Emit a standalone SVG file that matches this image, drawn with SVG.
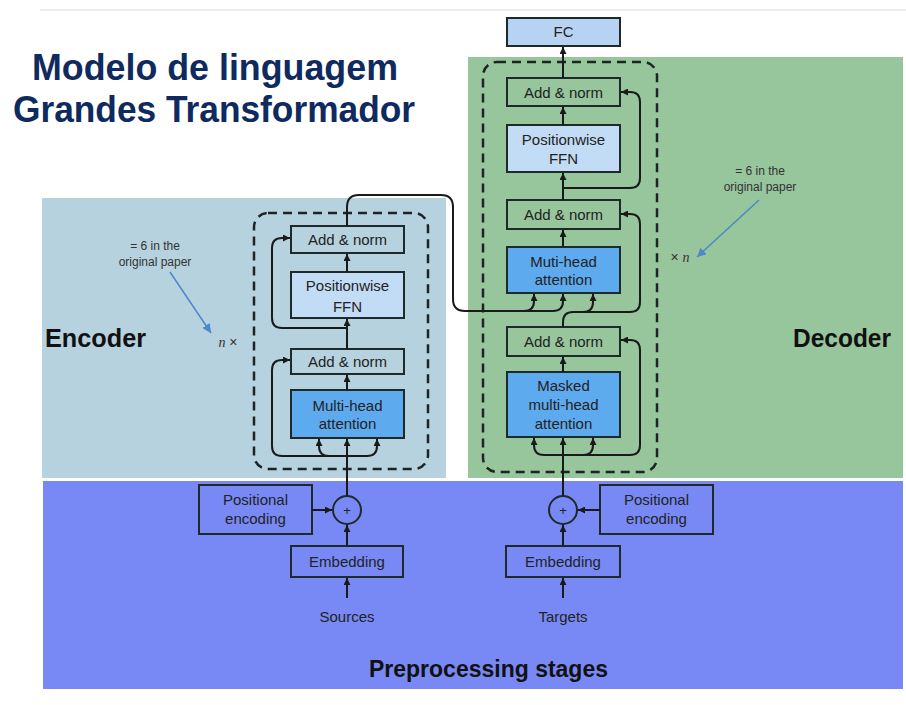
<svg xmlns="http://www.w3.org/2000/svg" width="906" height="705" viewBox="0 0 906 705">
<defs>
<marker id="ah" viewBox="0 0 10 10" refX="10" refY="5" markerWidth="7" markerHeight="7" markerUnits="userSpaceOnUse" orient="auto">
<path d="M0,0 L10,5 L0,10 Z" fill="#1a1a1a"/>
</marker>
<marker id="ahb" viewBox="0 0 10 10" refX="10" refY="5" markerWidth="9" markerHeight="9" markerUnits="userSpaceOnUse" orient="auto">
<path d="M0,0 L10,5 L0,10 Z" fill="#4d88c9"/>
</marker>
<style>
.box{fill:none;stroke:#1e2a2a;stroke-width:2}
.ffn{fill:#c2dcf6;stroke:#1e2a2a;stroke-width:2}
.mha{fill:#5eaaee;stroke:#1e2a2a;stroke-width:2}
.fc{fill:#b7d3f3;stroke:#1e2a2a;stroke-width:2}
.dash{fill:none;stroke:#1e2424;stroke-width:2.5;stroke-dasharray:9 6}
.lbl{font-family:"Liberation Sans",Arial,sans-serif;font-size:15px;fill:#222;text-anchor:middle}
.plus{font-family:"Liberation Sans",Arial,sans-serif;font-size:13px;fill:#222;text-anchor:middle}
.con path,.con line{fill:none;stroke:#1a1a1a;stroke-width:2;marker-end:url(#ah)}
.ann{font-family:"Liberation Sans",Arial,sans-serif;font-size:12px;fill:#333;text-anchor:middle}
.nx{font-family:"Liberation Sans",Arial,sans-serif;font-size:14px;fill:#333;text-anchor:middle}
.big{font-family:"Liberation Sans",Arial,sans-serif;font-weight:bold;font-size:26px;fill:#111}
.title{font-family:"Liberation Sans",Arial,sans-serif;font-weight:bold;font-size:37px;fill:#0e2a5e}
</style>
</defs>
<rect width="906" height="705" fill="#fff"/>
<line x1="40" y1="10" x2="906" y2="10" stroke="#e6e6e6" stroke-width="1.5"/>
<g id="regions">
<rect x="42" y="198" width="404" height="280" fill="#b6d2de"/>
<rect x="468" y="57" width="435" height="421" fill="#97c59c"/>
<rect x="43" y="481" width="860" height="208" fill="#7889f5"/>
</g>
<g id="title">
<text class="title" x="32" y="80" textLength="366" lengthAdjust="spacingAndGlyphs">Modelo de linguagem</text>
<text class="title" x="13" y="122" textLength="402" lengthAdjust="spacingAndGlyphs">Grandes Transformador</text>
</g>
<g id="labels">
<text class="big" x="45" y="347" textLength="101" lengthAdjust="spacingAndGlyphs">Encoder</text>
<text class="big" x="793" y="347" textLength="98" lengthAdjust="spacingAndGlyphs">Decoder</text>
<text class="big" x="369" y="677" style="font-size:23px" textLength="239" lengthAdjust="spacingAndGlyphs">Preprocessing stages</text>
</g>
<g id="enc-block">
<rect class="dash" x="254" y="213" width="174" height="256" rx="14"/>
</g>
<g id="dec-block">
<rect class="dash" x="483" y="62" width="174" height="410" rx="14"/>
</g>
<g id="enc-addnorm2"><rect class="box" x="291" y="226" width="113" height="27"/><text class="lbl" x="347.5" y="245">Add &amp; norm</text></g>
<g id="enc-ffn"><rect class="ffn" x="291" y="272" width="113" height="46"/><text class="lbl" x="347.5" y="291">Positionwise</text><text class="lbl" x="347.5" y="312">FFN</text></g>
<g id="enc-addnorm1"><rect class="box" x="291" y="349" width="113" height="25"/><text class="lbl" x="347.5" y="367">Add &amp; norm</text></g>
<g id="enc-mha"><rect class="mha" x="291" y="390" width="113" height="48"/><text class="lbl" x="347.5" y="411">Multi-head</text><text class="lbl" x="347.5" y="429">attention</text></g>
<g id="fc"><rect class="fc" x="507" y="18" width="113" height="28"/><text class="lbl" x="563.5" y="37">FC</text></g>
<g id="dec-addnorm3"><rect class="box" x="507" y="78" width="113" height="28"/><text class="lbl" x="563.5" y="97.5">Add &amp; norm</text></g>
<g id="dec-ffn"><rect class="ffn" x="507" y="125" width="113" height="47"/><text class="lbl" x="563.5" y="145">Positionwise</text><text class="lbl" x="563.5" y="164">FFN</text></g>
<g id="dec-addnorm2"><rect class="box" x="507" y="200" width="113" height="29"/><text class="lbl" x="563.5" y="220">Add &amp; norm</text></g>
<g id="dec-mha"><rect class="mha" x="507" y="247" width="113" height="46"/><text class="lbl" x="563.5" y="267">Muti-head</text><text class="lbl" x="563.5" y="285">attention</text></g>
<g id="dec-addnorm1"><rect class="box" x="507" y="327" width="113" height="29"/><text class="lbl" x="563.5" y="347">Add &amp; norm</text></g>
<g id="dec-masked"><rect class="mha" x="507" y="372" width="113" height="65"/><text class="lbl" x="563.5" y="391">Masked</text><text class="lbl" x="563.5" y="410">multi-head</text><text class="lbl" x="563.5" y="429">attention</text></g>
<g id="enc-pe"><rect class="box" x="199" y="485" width="113" height="49"/><text class="lbl" x="255.5" y="505">Positional</text><text class="lbl" x="255.5" y="524">encoding</text></g>
<g id="enc-add"><circle cx="347" cy="510" r="14" fill="none" stroke="#1e2a2a" stroke-width="2"/><text class="plus" x="347" y="514.5">+</text></g>
<g id="enc-emb"><rect class="box" x="291" y="546" width="112" height="31"/><text class="lbl" x="347" y="567">Embedding</text></g>
<g id="sources"><text class="lbl" x="347" y="622">Sources</text></g>
<g id="dec-pe"><rect class="box" x="600" y="485" width="113" height="49"/><text class="lbl" x="656.5" y="505">Positional</text><text class="lbl" x="656.5" y="524">encoding</text></g>
<g id="dec-add"><circle cx="563" cy="510" r="14" fill="none" stroke="#1e2a2a" stroke-width="2"/><text class="plus" x="563" y="514.5">+</text></g>
<g id="dec-emb"><rect class="box" x="506" y="546" width="114" height="31"/><text class="lbl" x="563" y="567">Embedding</text></g>
<g id="targets"><text class="lbl" x="563" y="622">Targets</text></g>
<g id="annotations">
<text class="ann" x="155" y="250">= 6 in the</text>
<text class="ann" x="155" y="266">original paper</text>
<line x1="170" y1="272" x2="211" y2="333" stroke="#4d88c9" stroke-width="1.5" marker-end="url(#ahb)"/>
<text class="nx" x="228" y="347"><tspan font-style="italic" font-family="Liberation Serif,serif">n</tspan> ×</text>
<text class="ann" x="760" y="175">= 6 in the</text>
<text class="ann" x="760" y="191">original paper</text>
<line x1="759" y1="200" x2="697" y2="257" stroke="#4d88c9" stroke-width="1.5" marker-end="url(#ahb)"/>
<text class="nx" x="680" y="262">× <tspan font-style="italic" font-family="Liberation Serif,serif">n</tspan></text>
</g>
<g id="connectors" class="con">
<line x1="347" y1="598" x2="347" y2="578"/>
<line x1="347" y1="546" x2="347" y2="525"/>
<line x1="312" y1="510" x2="332" y2="510"/>
<line x1="347" y1="496" x2="347" y2="439"/>
<path d="M347,456 H329 Q319,456 319,446 V439"/>
<path d="M347,456 H367 Q377,456 377,446 V439"/>
<path d="M330,456 H282 Q272,456 272,446 V370 Q272,360 282,360 H290"/>
<line x1="347" y1="390" x2="347" y2="375"/>
<line x1="347" y1="349" x2="347" y2="319"/>
<path d="M347,328 H282 Q272,328 272,318 V248 Q272,238 282,238 H290"/>
<line x1="347" y1="272" x2="347" y2="254"/>
<path d="M347,226 V207 Q347,195 359,195 H441 Q453,195 453,207 V299 Q453,311 465,311 H524 Q534,311 534,301 V294"/>
<path d="M522,311 H553 Q563,311 563,301 V294"/>
<line x1="563" y1="598" x2="563" y2="578"/>
<line x1="563" y1="546" x2="563" y2="525"/>
<line x1="600" y1="510" x2="578" y2="510"/>
<line x1="563" y1="496" x2="563" y2="438"/>
<path d="M563,455 H544 Q534,455 534,445 V438"/>
<path d="M563,455 H583 Q593,455 593,445 V438"/>
<path d="M580,455 H630 Q640,455 640,445 V350 Q640,340 630,340 H621"/>
<line x1="563" y1="372" x2="563" y2="357"/>
<path d="M563,327 V322 Q563,312 573,312 H630 Q640,312 640,302 V224 Q640,214 630,214 H621"/>
<path d="M573,312 H583 Q593,312 593,302 V294"/>
<line x1="563" y1="247" x2="563" y2="230"/>
<line x1="563" y1="200" x2="563" y2="173"/>
<path d="M563,188 H630 Q640,188 640,178 V102 Q640,92 630,92 H621"/>
<line x1="563" y1="125" x2="563" y2="107"/>
<line x1="563" y1="78" x2="563" y2="47"/>
</g>
</svg>
